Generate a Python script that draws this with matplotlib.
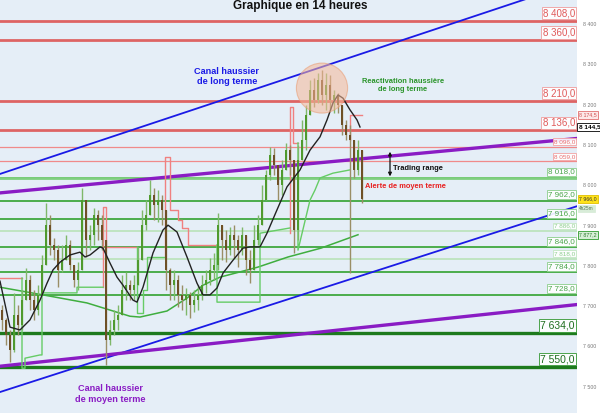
import numpy as np
import matplotlib
matplotlib.use('Agg')
from matplotlib import pyplot as plt
from matplotlib import transforms
from matplotlib.patches import Ellipse

plt.rcParams['font.family'] = ['Liberation Sans', 'DejaVu Sans']

# bougies (indice de bougie, prix)
closes = [7666, 7628, 7591, 7678, 7653, 7715, 7765, 7715, 7690, 7728,
          7802, 7901, 7852, 7839, 7790, 7814, 7852, 7802, 7765, 7790,
          7963, 7864, 7876, 7926, 7901, 7864, 7616, 7641, 7666, 7678,
          7740, 7752, 7740, 7752, 7814, 7901, 7926, 7976, 7951, 7963,
          7939, 7790, 7752, 7765, 7728, 7715, 7728, 7703, 7715, 7728,
          7752, 7765, 7790, 7802, 7901, 7864, 7839, 7876, 7864, 7839,
          7876, 7814, 7790, 7864, 7901, 7963, 8025, 8075, 8050, 8000,
          8038, 8087, 8063, 7889, 8063, 8112, 8174, 8236, 8211, 8261,
          8224, 8249, 8211, 8224, 8199, 8149, 8125, 8112, 8038, 8087,
          7966]
highs = [7703, 7670, 7641, 7733, 7703, 7740, 7795, 7777, 7740, 7752,
         7827, 7956, 7926, 7869, 7852, 7852, 7876, 7864, 7802, 7809,
         7993, 7963, 7901, 7943, 7939, 7926, 7847, 7666, 7690, 7703,
         7777, 7785, 7765, 7777, 7847, 7939, 7963, 8013, 7993, 7988,
         7976, 7901, 7795, 7790, 7777, 7752, 7745, 7735, 7740, 7752,
         7777, 7790, 7819, 7832, 7931, 7901, 7889, 7896, 7901, 7876,
         7896, 7864, 7839, 7901, 7926, 8000, 8038, 8095, 8092, 8050,
         8063, 8105, 8100, 8013, 8100, 8162, 8199, 8261, 8266, 8278,
         8286, 8278, 8273, 8236, 8229, 8199, 8162, 8149, 8087, 8112,
         8063]
lows = [7641, 7604, 7561, 7586, 7628, 7641, 7715, 7690, 7666, 7678,
        7728, 7814, 7827, 7814, 7747, 7785, 7814, 7790, 7747, 7740,
        7839, 7822, 7839, 7852, 7864, 7839, 7554, 7604, 7628, 7641,
        7703, 7715, 7715, 7715, 7777, 7864, 7889, 7926, 7914, 7909,
        7901, 7740, 7715, 7715, 7698, 7690, 7678, 7670, 7685, 7690,
        7715, 7733, 7752, 7765, 7790, 7814, 7809, 7827, 7819, 7797,
        7827, 7777, 7757, 7827, 7852, 7914, 7963, 8013, 8025, 7963,
        7976, 8038, 8025, 7832, 7864, 8063, 8087, 8187, 8194, 8204,
        8199, 8187, 8187, 8179, 8179, 8125, 8112, 7782, 8018, 8025,
        7956]
first_open = 7690

# moyenne mobile courte (noire)
ma_x = [-0.5, 2, 4.5, 7, 9.5, 11.25, 12.75, 14.5, 17, 19.5, 20.75, 22, 24.5,
        25.25, 27, 28.75, 30.25, 32.75, 33.75, 35.25, 37.75, 40.25, 41.5,
        43.75, 46.25, 48.75, 50.25, 52, 53.75, 55.25, 57.75, 60.25, 62, 64.5,
        66.25, 68.75, 71.25, 74.5, 77, 79.5, 81.25, 82.75, 84, 85.25, 87,
        88.75, 89.5]
ma_v = [7762, 7648, 7641, 7666, 7715, 7757, 7790, 7809, 7827, 7834, 7822,
        7827, 7847, 7844, 7807, 7772, 7752, 7715, 7710, 7747, 7832, 7889,
        7901, 7884, 7822, 7757, 7728, 7728, 7745, 7782, 7814, 7844, 7847,
        7847, 7881, 7939, 7996, 8038, 8087, 8120, 8162, 8204, 8224, 8216,
        8187, 8162, 8144.5]

# moyenne mobile longue (verte)
ma_long_x = [-0.5, 10.25, 21.25, 32, 34.5, 41.25, 46.25, 50.25, 54.5, 59.5,
             64, 71.5, 79.75, 89]
ma_long_v = [7747, 7728, 7708, 7675, 7673, 7688, 7720, 7752, 7772, 7785,
             7797, 7822, 7844, 7877.2]

# stop suiveur : segments rouges (resistance) et verts (support)
stop_red = [
    ([-0.5, 5], [7770, 7770]),
    ([25.25, 25.25, 26, 26, 33.75], [7747, 7946, 7946, 7847, 7847]),
    ([40.75, 40.75, 42, 42, 44, 44, 45, 45, 46.5, 46.5, 53.75],
     [7822, 8070, 8070, 7939, 7939, 7914, 7914, 7894, 7894, 7852, 7852]),
    ([72, 72, 72.75, 72.75, 74], [7881, 8194, 8194, 8105, 8105]),
    ([87, 87, 90], [8112, 8174.5, 8174.5]),
]
stop_green = [
    ([5, 5, 5.75, 5.75, 9.5, 10, 10, 18.75, 18.75, 25.25],
     [7770, 7546, 7546, 7571, 7579, 7579, 7733, 7733, 7747, 7747]),
    ([33.75, 33.75, 35.25, 35.25, 36.25, 36.25, 40.75],
     [7847, 7683, 7683, 7740, 7740, 7822, 7822]),
    ([53.75, 53.75, 64.5, 64.5, 72], [7852, 7710, 7710, 7881, 7894]),
    ([74, 74, 77, 78.25, 79.5, 82.75, 87],
     [8105, 7839, 7963, 7988, 8018, 8030, 8038]),
]

# niveaux horizontaux
res_levels = [8408, 8360, 8210, 8136]
res_labels = ['8 408,0', '8 360,0', '8 210,0', '8 136,0']
res_small = [8096, 8059]
res_small_labels = ['8 096,0', '8 059,0']
sup_levels = [8018, 7962, 7916, 7846, 7784, 7728]
sup_labels = ['8 018,0', '7 962,0', '7 916,0', '7 846,0', '7 784,0', '7 728,0']
sup_light = [7886, 7818]
sup_light_labels = ['7 886,0', '7 818,0']
sup_major = [7634, 7550]
sup_major_labels = ['7 634,0', '7 550,0']

# canaux (extremites)
canal_x = [-0.5, 143.75]
long_haut = [8028, 8504]
long_bas = [7487, 7948]
moyen_haut = [7981, 8116]
moyen_bas = [7551, 7704]

yticks = [8400, 8300, 8200, 8100, 8000, 7900, 7800, 7700, 7600, 7500]
ytick_labels = ['8 400', '8 300', '8 200', '8 100', '8 000', '7 900', '7 800',
                '7 700', '7 600', '7 500']

fig = plt.figure(figsize=(6, 4.13), dpi=100)
fig.patch.set_facecolor('white')
ax = fig.add_axes([0, 0, 577 / 600, 1])
ax.set_facecolor('#e5eef7')
ax.set_xlim(-0.5, 143.75)
ax.set_ylim(7435, 8459.5)
for s in ax.spines.values():
    s.set_visible(False)
ax.set_xticks([])
ax.yaxis.tick_right()
ax.set_yticks(yticks)
ax.set_yticklabels(ytick_labels)
ax.tick_params(axis='y', length=0, labelsize=3.8, labelcolor='#777777', pad=4)

trans = transforms.blended_transform_factory(ax.transAxes, ax.transData)

# lignes horizontales
for lv in res_levels:
    ax.axhline(lv, color='#de6464', lw=2, zorder=2)
for lv in res_small:
    ax.axhline(lv, color='#f08a8a', lw=0.9, zorder=2)
for lv in sup_levels:
    ax.axhline(lv, color='#3fa83f', lw=1.3, zorder=2)
ax.axhline(sup_levels[0], color='#7fcf7f', lw=2, zorder=2)
for lv in sup_light:
    ax.axhline(lv, color='#b9e3b9', lw=1.2, zorder=2)
for lv in sup_major:
    ax.axhline(lv, color='#1d7a1d', lw=2.4, zorder=2)

# canaux
ax.plot(canal_x, long_haut, color='#1a1ae6', lw=1.3, zorder=3)
ax.plot(canal_x, long_bas, color='#1a1ae6', lw=1.3, zorder=3)
ax.plot(canal_x, moyen_haut, color='#8a1cc4', lw=2.4, zorder=3)
ax.plot(canal_x, moyen_bas, color='#8a1cc4', lw=2.4, zorder=3)

# indicateurs
ax.plot(ma_long_x, ma_long_v, color='#3fae3f', lw=1.1, zorder=4)
for sx, sv in stop_red:
    ax.plot(sx, sv, color='#f08080', lw=1, zorder=4)
for sx, sv in stop_green:
    ax.plot(sx, sv, color='#66cc66', lw=1, zorder=4)

# bougies
idx = np.arange(len(closes))
c = np.array(closes, dtype=float)
o = np.array([first_open] + closes[:-1], dtype=float)
h = np.maximum(np.array(highs, dtype=float), np.maximum(o, c))
l = np.minimum(np.array(lows, dtype=float), np.minimum(o, c))
up = c >= o
cols = np.where(up, '#4f9a2e', '#6e5026')
ax.vlines(idx, l, h, colors=np.where(up, '#7fb86a', '#9a8e66'), lw=1.0, zorder=5)
ax.bar(idx, np.maximum(np.abs(c - o), 3), bottom=np.minimum(o, c), width=0.6,
       color=cols, zorder=6, linewidth=0)

ax.plot(ma_x, ma_v, color='#222222', lw=1.0, zorder=7)

# zone entouree
ax.add_patch(Ellipse((80, 8241), 12.8, 124, facecolor='#f7b898', alpha=0.55,
                     edgecolor='#e89a70', lw=0.8, zorder=8))

# etiquettes des niveaux
def etiquette(lv, txt, col, ec, size, fw='normal'):
    ax.annotate(txt, xy=(1, lv), xycoords=trans, xytext=(-1.5, 1.8),
                textcoords='offset points', ha='right', va='bottom',
                fontsize=size, color=col, fontweight=fw, zorder=10,
                bbox=dict(boxstyle='square,pad=0.12', fc='white', ec=ec, lw=0.7,
                          alpha=0.9))

for lv, t in zip(res_levels, res_labels):
    etiquette(lv, t, '#e05a5a', '#f0a0a0', 7)
for lv, t in zip(res_small, res_small_labels):
    etiquette(lv, t, '#ea6f6f', '#f3a7a7', 4.6)
for lv, t in zip(sup_levels, sup_labels):
    etiquette(lv, t, '#4aa54a', '#8fd08f', 5.8)
for lv, t in zip(sup_light, sup_light_labels):
    etiquette(lv, t, '#8fcf8f', '#c5e8c5', 4.6)
for lv, t in zip(sup_major, sup_major_labels):
    etiquette(lv, t, '#1e6e1e', '#3a9a3a', 7.5)

# marqueurs sur l'axe de droite
def marqueur(v, txt, col, fc, ec, size=3.8, fw='normal', dy=0):
    ax.annotate(txt, xy=(1, v), xycoords=trans, xytext=(1.5, dy),
                textcoords='offset points', ha='left', va='center',
                fontsize=size, color=col, fontweight=fw, zorder=11,
                annotation_clip=False,
                bbox=dict(boxstyle='square,pad=0.25', fc=fc, ec=ec, lw=0.6))

marqueur(8174.5, '8 174,5', '#d05050', '#fde8e8', '#e07070')
marqueur(8144.5, '8 144,5', '#000000', 'white', '#000000', size=4.6, fw='bold')
marqueur(7966.0, '7 966,0', '#333333', '#ffe21a', '#e0c000')
marqueur(7966.0, '4h25m', '#557755', '#d8ecd8', '#d8ecd8', size=3.4, dy=-7)
marqueur(7877.2, '7 877,2', '#2e7a2e', '#d6efd6', '#2e9a2e')

# textes
ax.text(56.25, 8270, 'Canal haussier\nde long terme', color='#1a1ae6',
        fontsize=6.6, fontweight='bold', ha='center', va='center',
        linespacing=1.15, zorder=12)
ax.text(100.25, 8247, 'Reactivation haussière\nde long terme', color='#2a942a',
        fontsize=5.4, fontweight='bold', ha='center', va='center',
        linespacing=1.2, zorder=12)
ax.text(97.75, 8042, 'Trading range', color='#111111', fontsize=5.4,
        fontweight='bold', ha='left', va='center', zorder=12)
ax.text(90.75, 7996, 'Alerte de moyen terme', color='#e82020', fontsize=5.4,
        fontweight='bold', ha='left', va='center', zorder=12)
ax.text(27, 7482, 'Canal haussier\nde moyen terme', color='#8a1cc4',
        fontsize=6.6, fontweight='bold', ha='center', va='center',
        linespacing=1.3, zorder=12)
ax.annotate('', xy=(97, 8090), xytext=(97, 8015),
            arrowprops=dict(arrowstyle='<|-|>', color='#111111', lw=0.9,
                            mutation_scale=5), zorder=12)

fig.text(0.5, 1 - 6.5 / 413, 'Graphique en 14 heures', ha='center',
         va='center', fontsize=8.5, fontweight='bold', color='#111111')

fig.savefig('out.png', dpi=100)
